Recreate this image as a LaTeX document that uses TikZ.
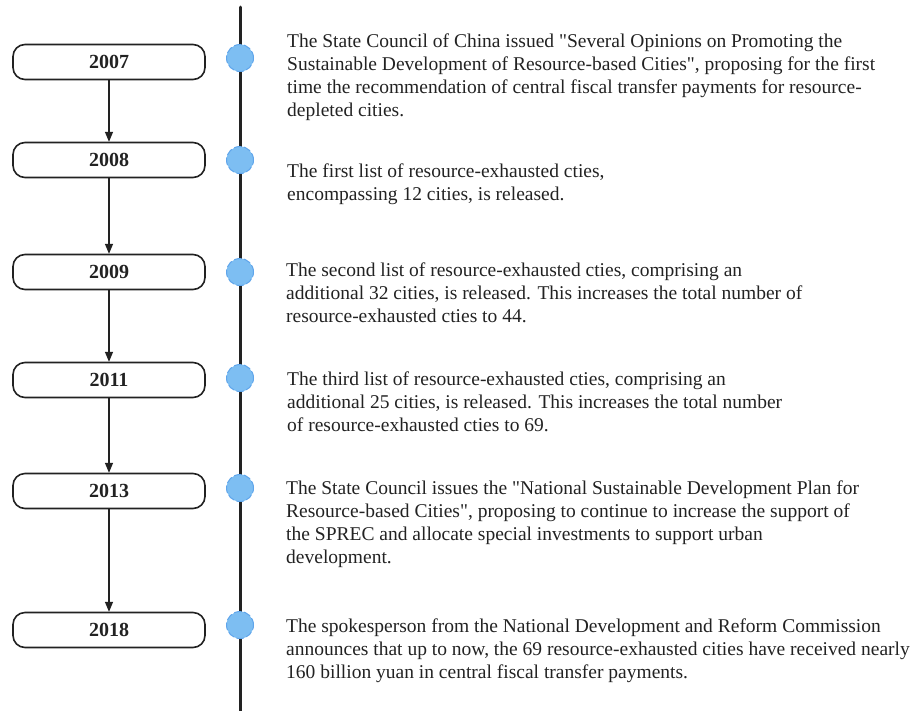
\documentclass[tikz,border=0pt]{standalone}
\usepackage{fontspec}
\setmainfont{Liberation Serif}
\newfontfamily\plainserif{Liberation Serif}
\usetikzlibrary{arrows}
\usepackage{xcolor}
\definecolor{dotblue}{RGB}{125,190,242}
\definecolor{dotedge}{RGB}{95,165,235}
\definecolor{inkgray}{RGB}{34,34,34}

\begin{document}
\begin{tikzpicture}[line cap=round,line join=round,>=triangle 45,x=1pt,y=-1pt]
\tikzset{yearbox/.style={draw=inkgray,line width=1.6pt,rounded corners=12pt,minimum width=192pt,minimum height=35pt,inner sep=0pt,text=inkgray,font=\fontsize{20}{22}\selectfont\bfseries},
  event/.style={anchor=north west,inner sep=0pt,align=left,text=inkgray,font=\plainserif\fontsize{19.5}{22.8}\selectfont},
  dot/.style={circle,fill=dotblue,draw=dotedge,dash pattern=on 7pt off 3pt,line width=1pt,minimum size=27pt,inner sep=0pt}}
\useasboundingbox (0,0) rectangle (917,710);
% time axis
\draw [line width=3pt,draw=inkgray] (240,7)-- (240,712);
% year boxes
\node[yearbox] (y2007) at (109,62) {2007};
\node[yearbox] (y2008) at (109,160) {2008};
\node[yearbox] (y2009) at (109,272) {2009};
\node[yearbox] (y2011) at (109,380) {2011};
\node[yearbox] (y2013) at (109,491) {2013};
\node[yearbox] (y2018) at (109,630) {2018};
\draw [->,line width=1.3pt,draw=inkgray] (y2007.south)-- (y2008.north);
\draw [->,line width=1.3pt,draw=inkgray] (y2008.south)-- (y2009.north);
\draw [->,line width=1.3pt,draw=inkgray] (y2009.south)-- (y2011.north);
\draw [->,line width=1.3pt,draw=inkgray] (y2011.south)-- (y2013.north);
\draw [->,line width=1.3pt,draw=inkgray] (y2013.south)-- (y2018.north);
% dots on the axis
\node[dot] (d2007) at (240,58) {};
\node[dot] (d2008) at (240,160) {};
\node[dot] (d2009) at (240,272) {};
\node[dot] (d2011) at (240,378) {};
\node[dot] (d2013) at (240,488) {};
\node[dot] (d2018) at (240,625) {};
% events
\node[event] (e2007) at (287,34) {The State Council of China issued "Several Opinions on Promoting the\\Sustainable Development of Resource-based Cities", proposing for the first\\time the recommendation of central fiscal transfer payments for resource-\\depleted cities.};
\node[event] (e2008) at (287,164) {The first list of resource-exhausted cties,\\encompassing 12 cities, is released.};
\node[event] (e2009) at (286,263) {The second list of resource-exhausted cties, comprising an\\additional 32 cities, is released. This increases the total number of\\resource-exhausted cties to 44.};
\node[event] (e2011) at (287,372) {The third list of resource-exhausted cties, comprising an\\additional 25 cities, is released. This increases the total number\\of resource-exhausted cties to 69.};
\node[event] (e2013) at (286,481) {The State Council issues the "National Sustainable Development Plan for\\Resource-based Cities", proposing to continue to increase the support of\\the SPREC and allocate special investments to support urban\\development.};
\node[event] (e2018) at (286,619) {The spokesperson from the National Development and Reform Commission\\announces that up to now, the 69 resource-exhausted cities have received nearly\\160 billion yuan in central fiscal transfer payments.};
\end{tikzpicture}
\end{document}
